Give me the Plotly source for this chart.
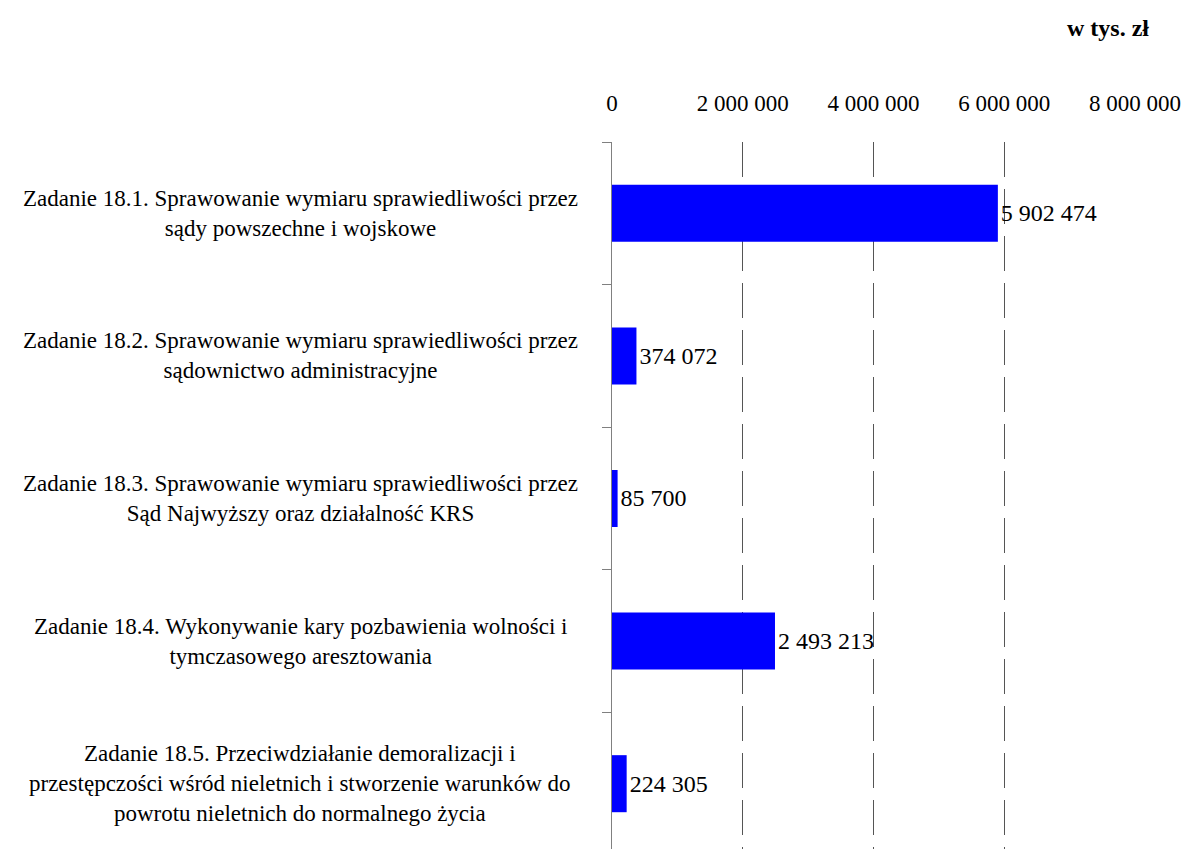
import plotly.graph_objects as go

categories = [
    "Zadanie 18.1. Sprawowanie wymiaru sprawiedliwości przez<br>sądy powszechne i wojskowe",
    "Zadanie 18.2. Sprawowanie wymiaru sprawiedliwości przez<br>sądownictwo administracyjne",
    "Zadanie 18.3. Sprawowanie wymiaru sprawiedliwości przez<br>Sąd Najwyższy oraz działalność KRS",
    "Zadanie 18.4. Wykonywanie kary pozbawienia wolności i<br>tymczasowego aresztowania",
    "Zadanie 18.5. Przeciwdziałanie demoralizacji i<br>przestępczości wśród nieletnich i stworzenie warunków do<br>powrotu nieletnich do normalnego życia",
]
values = [5902474, 374072, 85700, 2493213, 224305]
tick_values = [0, 2000000, 4000000, 6000000, 8000000]
unit_label = "<b>w tys. zł</b>"

FONT = "Liberation Serif, Times New Roman, serif"
W, H = 1184, 849
L, R, T, B = 612, 49, 142, 0
plot_w = W - L - R
plot_h = H - T - B


def px_x(page_x):
    return (page_x - L) / plot_w


def px_y(page_y):
    return 1 - (page_y - T) / plot_h


cat_ids = [f"c{i}" for i in range(len(categories))]

fig = go.Figure(go.Bar(
    x=values,
    y=cat_ids,
    orientation="h",
    width=0.4,
    marker=dict(color="#0000FF", line=dict(width=0)),
    texttemplate="%{x:,d}",
    textposition="outside",
    textfont=dict(family=FONT, size=24, color="black"),
    cliponaxis=False,
    hoverinfo="skip",
))

annotations = []
for cid, lab in zip(cat_ids, categories):
    annotations.append(dict(
        x=px_x(300), xref="paper", xanchor="center",
        y=cid, yref="y", yanchor="middle",
        text=lab, align="center", showarrow=False,
        font=dict(family=FONT, size=23, color="black"),
    ))
annotations.append(dict(
    x=px_x(1108), xref="paper", xanchor="center",
    y=px_y(28), yref="paper", yanchor="middle",
    text=unit_label, showarrow=False,
    font=dict(family=FONT, size=24, color="black"),
))

fig.update_layout(
    width=W, height=H,
    margin=dict(l=L, r=R, t=T, b=B, pad=0),
    paper_bgcolor="white", plot_bgcolor="white",
    separators=", ",
    showlegend=False,
    hovermode=False,
    font=dict(family=FONT, size=23, color="black"),
    xaxis=dict(
        side="top", range=[0, 8000000], tickvals=tick_values,
        tickformat=",d", showgrid=True, gridcolor="#555555", gridwidth=1,
        griddash="35px,12px", zeroline=False, showline=False, ticks="",
        ticklabelstandoff=25,
        tickfont=dict(family=FONT, size=23, color="black"),
    ),
    yaxis=dict(
        type="category", categoryorder="array", categoryarray=cat_ids,
        range=[4.458, -0.5], showticklabels=False, ticks="outside",
        tickson="boundaries", ticklen=9, tickcolor="#808080", tickwidth=1,
        showline=True, linecolor="#808080", linewidth=1, showgrid=False,
        zeroline=False,
    ),
    annotations=annotations,
)

fig.write_html(
    "out.html",
    config={"displayModeBar": False},
    post_script="document.body.style.margin='0';document.body.style.overflow='hidden';",
)
